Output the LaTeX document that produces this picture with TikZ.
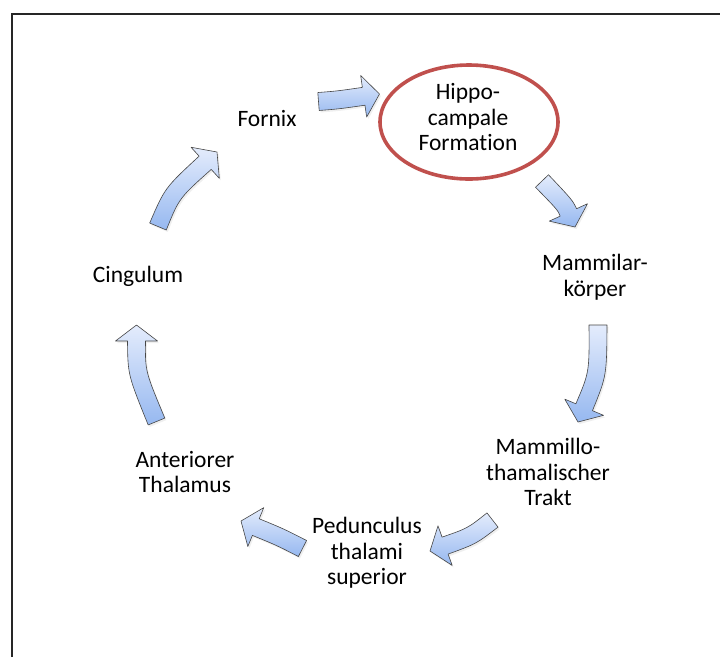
\documentclass[tikz,border=0pt]{standalone}
\usepackage{fontspec}
\setmainfont{Carlito}[Ligatures=NoCommon]
\usetikzlibrary{calc,shadows,shapes.geometric}
\definecolor{arrowlight}{RGB}{228,236,252}
\definecolor{arrowdark}{RGB}{150,184,240}
\definecolor{arrowline}{RGB}{70,70,70}
\definecolor{ringred}{RGB}{192,80,77}
\tikzset{
  celltext/.style={font=\fontsize{23.5}{25.5}\selectfont, align=center, inner sep=0pt, text=black},
  blockarrow/.style={draw=arrowline, line width=0.6pt, top color=arrowlight, bottom color=arrowdark, line join=round,
    drop shadow={opacity=0.12, shadow xshift=1.5pt, shadow yshift=-2pt}},
  ring/.style={draw=ringred, line width=3.6pt, ellipse, inner sep=0pt},
  frameline/.style={draw=black!85, line width=2pt}
}
\newcommand{\cyclearrow}[3]{%
  \coordinate (S) at #1; \coordinate (C) at #2; \coordinate (T) at #3;
  \coordinate (E) at ($(T)!16pt!(C)$);
  \coordinate (Ls) at ($(S)!9pt!90:(C)$);
  \coordinate (Rs) at ($(S)!9pt!-90:(C)$);
  \coordinate (Le) at ($(E)!9pt!-90:(C)$);
  \coordinate (Re) at ($(E)!9pt!90:(C)$);
  \coordinate (Lh) at ($(E)!21pt!-90:(C)$);
  \coordinate (Rh) at ($(E)!21pt!90:(C)$);
  \coordinate (Lc) at ($(C)+0.5*(Ls)-0.5*(S)+0.5*(Le)-0.5*(E)$);
  \coordinate (Rc) at ($(C)+0.5*(Rs)-0.5*(S)+0.5*(Re)-0.5*(E)$);
  \path[blockarrow] (Ls) .. controls (Lc) .. (Le) -- (Lh) -- (T) -- (Rh) -- (Re) .. controls (Rc) .. (Rs) -- cycle;
}
\begin{document}
\begin{tikzpicture}[x=1pt,y=-1pt]
\useasboundingbox (0,0) rectangle (720,657);
\fill[white] (0,0) rectangle (720,657);
\draw[frameline] (11.5,657) -- (11.5,13.5) -- (720,13.5);

\node[ring, minimum width=178pt, minimum height=114pt] (hippoRing) at (469,122) {};

\node[celltext] (fornix) at (267,118) {Fornix};
\node[celltext] (hippo) at (468,117) {Hippo-\\campale\\Formation};
\node[celltext] (mammilar) at (595,277) {Mammilar-\\körper};
\node[celltext] (trakt) at (548,472) {Mammillo-\\thamalischer\\Trakt};
\node[celltext] (pedunculus) at (367,553) {Pedunculus\\thalami\\superior};
\node[celltext] (anterior) at (185,472) {Anteriorer\\Thalamus};
\node[celltext] (cingulum) at (138,276) {Cingulum};

\cyclearrow{(318.5,101.5)}{(338,100)}{(379.5,94)}
\cyclearrow{(542,181)}{(565,205)}{(575,227)}
\cyclearrow{(598,325)}{(598,374)}{(578,422)}
\cyclearrow{(492.5,520)}{(472,536)}{(430,551)}
\cyclearrow{(302.5,548.5)}{(280,537)}{(241,521)}
\cyclearrow{(156.5,421.5)}{(136.5,373)}{(136.5,325)}
\cyclearrow{(158,226.5)}{(172,193)}{(217,152)}
\end{tikzpicture}
\end{document}
